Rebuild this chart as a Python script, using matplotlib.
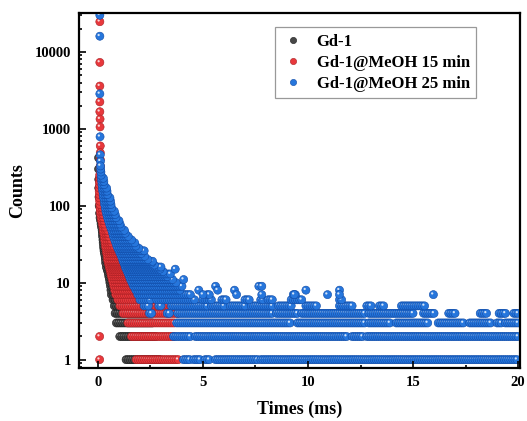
import numpy as np
import matplotlib
matplotlib.use("Agg")
import matplotlib.pyplot as plt
from matplotlib.path import Path
from matplotlib.lines import Line2D
from matplotlib.markers import MarkerStyle
from matplotlib.collections import PathCollection
from matplotlib.transforms import IdentityTransform
from matplotlib.ticker import FixedLocator, LogLocator, NullFormatter, MultipleLocator

plt.rcParams['font.family'] = ['Liberation Serif', 'DejaVu Serif']
plt.rcParams['font.weight'] = 'bold'

# time channel of the decay histogram (ms)
CHANNEL_MS = 0.1

series_labels = ["Gd-1", "Gd-1@MeOH 15 min", "Gd-1@MeOH 25 min"]
face_colors = ["#474747", "#e8383c", "#2676dc"]
edge_colors = ["#1c1c1c", "#a81e22", "#0f4aa6"]

# ---- Gd-1 (black) ----
gd1_head_t = [0.03, 0.03, 0.04, 0.04, 0.05, 0.06, 0.08]
gd1_head_counts = [420, 300, 220, 170, 130, 100, 80]
gd1_runs = [
    (1, [(1.34, 3.0)]), (2, [(1.04, 2.8)]), (3, [(0.88, 2.6)]), (4, [(0.82, 2.4)]),
    (5, [(0.78, 2.0)]), (6, [(0.72, 1.8)]), (7, [(0.64, 1.6)]), (8, [(0.62, 1.4)]),
    (9, [(0.6, 1.3)]), (10, [(0.57, 1.2)]), (11, [(0.55, 1.1)]), (12, [(0.52, 1.0)]),
    (13, [(0.5, 0.95)]), (14, [(0.47, 0.9)]), (15, [(0.44, 0.85)]), (16, [(0.4, 0.8)]),
    (18, [(0.37, 0.72)]), (20, [(0.35, 0.65)]), (22, [(0.34, 0.6)]), (24, [(0.31, 0.56)]),
    (26, [(0.29, 0.52)]), (28, [(0.28, 0.48)]), (30, [(0.27, 0.45)]), (33, [(0.25, 0.42)]),
    (36, [(0.24, 0.39)]), (40, [(0.22, 0.36)]), (44, [(0.21, 0.33)]), (48, [(0.2, 0.3)]),
    (53, [(0.17, 0.27)]), (58, [(0.15, 0.25)]), (64, [(0.13, 0.22)]), (70, [(0.1, 0.2)]),
]
gd1_extra_t = []
gd1_extra_counts = []

# ---- Gd-1@MeOH 15 min (red) ----
m15_head_t = [0.09, 0.09, 0.09, 0.09, 0.09, 0.1, 0.1, 0.11, 0.11, 0.11, 0.11, 0.12]
m15_head_counts = [24700, 7300, 3600, 2240, 1670, 1340, 1060, 600, 490, 400, 330, 280]
m15_runs = [
    (1, [(1.82, 3.9)]), (2, [(1.6, 3.6)]), (3, [(1.43, 3.7)]), (4, [(1.2, 3.8)]),
    (5, [(1.05, 3.8)]), (6, [(0.95, 3.1)]), (7, [(0.85, 2.5)]), (8, [(0.8, 2.2)]),
    (9, [(0.76, 2.0)]), (10, [(0.72, 1.95)]), (11, [(0.68, 1.87)]), (12, [(0.65, 1.75)]),
    (13, [(0.62, 1.7)]), (14, [(0.6, 1.6)]), (15, [(0.57, 1.58)]), (16, [(0.54, 1.45)]),
    (17, [(0.52, 1.4)]), (18, [(0.5, 1.32)]), (19, [(0.48, 1.3)]), (20, [(0.46, 1.2)]),
    (22, [(0.44, 1.12)]), (24, [(0.42, 1.05)]), (26, [(0.4, 1.0)]), (28, [(0.38, 0.9)]),
    (30, [(0.36, 0.8)]), (33, [(0.34, 0.72)]), (36, [(0.32, 0.66)]), (40, [(0.3, 0.58)]),
    (44, [(0.28, 0.52)]), (48, [(0.26, 0.46)]), (53, [(0.24, 0.4)]), (58, [(0.21, 0.36)]),
    (64, [(0.18, 0.32)]), (70, [(0.15, 0.3)]), (77, [(0.13, 0.27)]), (85, [(0.11, 0.24)]),
    (94, [(0.1, 0.21)]), (104, [(0.09, 0.18)]), (115, [(0.08, 0.16)]), (127, [(0.07, 0.14)]),
    (140, [(0.07, 0.12)]), (155, [(0.06, 0.11)]), (170, [(0.06, 0.1)]), (188, [(0.07, 0.1)]),
    (207, [(0.07, 0.09)]), (228, [(0.08, 0.09)]), (250, [(0.08, 0.08)]),
]
m15_extra_t = [0.08, 0.08]
m15_extra_counts = [1, 2]

# ---- Gd-1@MeOH 25 min (blue) ----
m25_head_t = [0.09, 0.09, 0.09, 0.1, 0.11, 0.12]
m25_head_counts = [30000, 16000, 2850, 790, 460, 380]
m25_runs = [
    (1, [(4.07, 4.4), (4.56, 4.9), (5.1, 5.36), (5.6, 7.6), (7.75, 20.0)]),
    (2, [(3.6, 4.4), (4.64, 11.9), (12.1, 12.6), (12.8, 20.0)]),
    (3, [(3.75, 9.2), (9.5, 11.3), (11.4, 12.7), (12.9, 13.9), (14.2, 15.7),
         (16.2, 17.4), (17.7, 18.7), (19.0, 19.2), (19.4, 20.0)]),
    (4, [(2.45, 2.6), (3.3, 3.4), (3.8, 8.3), (8.5, 9.5), (9.7, 10.4), (10.5, 12.7),
         (12.9, 15.0), (15.5, 16.0), (16.7, 17.0), (18.2, 18.5), (19.1, 19.4), (19.8, 20.0)]),
    (5, [(2.2, 2.4), (2.9, 3.0), (3.5, 5.2), (5.4, 6.0), (6.3, 7.0), (7.3, 8.3),
         (8.6, 9.2), (9.9, 10.4), (11.5, 12.1), (12.8, 13.0), (13.4, 13.6), (14.45, 15.6)]),
    (6, [(2.0, 2.5), (2.8, 4.6), (5.0, 5.4), (5.9, 6.1), (7.0, 7.2), (7.75, 7.9),
         (8.1, 8.3), (9.2, 9.7), (11.5, 11.6)]),
    (7, [(1.9, 4.4), (5.2, 5.3), (9.3, 9.4)]),
    (8, [(1.8, 3.9)]), (9, [(1.7, 4.0)]), (10, [(1.62, 3.75)]), (11, [(1.55, 3.55)]),
    (12, [(1.5, 3.3)]), (13, [(1.45, 3.45)]), (14, [(1.4, 3.1)]), (15, [(1.35, 2.95)]),
    (16, [(1.3, 3.05)]), (17, [(1.28, 2.7)]), (18, [(1.25, 2.55)]), (19, [(1.2, 2.6)]),
    (20, [(1.18, 2.4)]), (22, [(1.12, 2.3)]), (24, [(1.06, 2.15)]), (26, [(1.0, 2.2)]),
    (28, [(0.95, 2.0)]), (30, [(0.9, 1.85)]), (33, [(0.85, 1.75)]), (36, [(0.8, 1.68)]),
    (40, [(0.74, 1.5)]), (44, [(0.7, 1.38)]), (48, [(0.66, 1.3)]), (53, [(0.6, 1.15)]),
    (58, [(0.55, 1.1)]), (64, [(0.5, 1.0)]), (70, [(0.46, 0.95)]), (77, [(0.42, 0.86)]),
    (85, [(0.38, 0.8)]), (94, [(0.35, 0.74)]), (104, [(0.32, 0.68)]), (115, [(0.3, 0.62)]),
    (127, [(0.27, 0.57)]), (140, [(0.25, 0.5)]), (155, [(0.23, 0.45)]), (170, [(0.21, 0.41)]),
    (188, [(0.19, 0.36)]), (207, [(0.18, 0.32)]), (228, [(0.16, 0.27)]), (250, [(0.15, 0.24)]),
    (275, [(0.14, 0.2)]), (300, [(0.13, 0.17)]), (330, [(0.12, 0.14)]),
]
m25_extra_t = [3.68, 4.08, 4.8, 5.0, 5.6, 5.7, 6.5, 6.6, 7.66, 7.8, 7.8,
               9.35, 9.9, 10.93, 11.5, 11.5, 15.97]
m25_extra_counts = [15, 11, 8, 7, 9, 8, 8, 7, 9, 9, 7,
                    7, 8, 7, 8, 7, 7]


def expand(head_t, head_counts, runs, extra_t, extra_counts):
    t = list(head_t)
    y = list(head_counts)
    for count, spans in runs:
        for t0, t1 in spans:
            ts = np.arange(t0, t1 + 1e-9, CHANNEL_MS)
            t.extend(ts)
            y.extend([count] * len(ts))
    t.extend(extra_t)
    y.extend(extra_counts)
    return np.array(t), np.array(y, dtype=float)


datasets = [
    expand(gd1_head_t, gd1_head_counts, gd1_runs, gd1_extra_t, gd1_extra_counts),
    expand(m15_head_t, m15_head_counts, m15_runs, m15_extra_t, m15_extra_counts),
    expand(m25_head_t, m25_head_counts, m25_runs, m25_extra_t, m25_extra_counts),
]

# ball marker + small off-centre disc as its specular highlight
ball_ms = MarkerStyle('o')
ball_path = ball_ms.get_path().transformed(ball_ms.get_transform())
circ = Path.unit_circle()
hl_verts = np.vstack([circ.vertices * 0.28 + [-0.3, 0.3], [[1, 1], [-1, -1]]])
hl_codes = np.concatenate([circ.codes, [Path.MOVETO, Path.MOVETO]])
hl_ms = MarkerStyle(Path(hl_verts, hl_codes))
hl_path = hl_ms.get_path().transformed(hl_ms.get_transform())

fig = plt.figure(figsize=(5.27, 4.21), dpi=100)
ax = fig.add_axes([0.150, 0.126, 0.837, 0.843])
ax.set_yscale('log')

size = 34
for (t, y), fc, ec in zip(datasets, face_colors, edge_colors):
    # each ball is followed by its own highlight, so the next ball covers it
    offsets = np.repeat(np.column_stack([t, y]), 2, axis=0)
    coll = PathCollection([ball_path, hl_path], sizes=[size], offsets=offsets,
                          offset_transform=ax.transData, transform=IdentityTransform(),
                          facecolors=[fc, (1, 1, 1, 0.8)],
                          edgecolors=[ec, (0, 0, 0, 0)], linewidths=[0.4, 0])
    ax.add_collection(coll, autolim=False)

ax.set_xlim(-0.9, 20.1)
ax.set_ylim(0.78, 32000)

ax.xaxis.set_major_locator(FixedLocator([0, 5, 10, 15, 20]))
ax.xaxis.set_minor_locator(MultipleLocator(2.5))
ax.yaxis.set_major_locator(FixedLocator([1, 10, 100, 1000, 10000]))
ax.yaxis.set_major_formatter(plt.FuncFormatter(lambda v, p: f"{int(round(v))}"))
ax.yaxis.set_minor_locator(LogLocator(base=10, subs=np.arange(2, 10)))
ax.yaxis.set_minor_formatter(NullFormatter())

ax.tick_params(which='both', direction='in', width=1.2, labelsize=10.5)
ax.tick_params(which='major', length=5, pad=6)
ax.tick_params(which='minor', length=2.5)
for sp in ax.spines.values():
    sp.set_linewidth(1.6)

ax.set_xlabel("Times (ms)", fontsize=13, fontweight='bold', labelpad=8)
ax.set_ylabel("Counts", fontsize=13, fontweight='bold', labelpad=6)

handles = [Line2D([], [], linestyle='none', marker='o', markersize=4.5,
                  markerfacecolor=fc, markeredgecolor=ec, markeredgewidth=0.4)
           for fc, ec in zip(face_colors, edge_colors)]
leg = ax.legend(handles, series_labels, loc='upper left', bbox_to_anchor=(0.444, 0.961),
                borderaxespad=0, fancybox=False, frameon=True,
                handlelength=1.4, handletextpad=0.7, labelspacing=0.3, borderpad=0.4,
                prop={'weight': 'bold', 'size': 12})
leg.get_frame().set_edgecolor('#808080')
leg.get_frame().set_linewidth(0.9)

fig.savefig("out.png", dpi=100)
